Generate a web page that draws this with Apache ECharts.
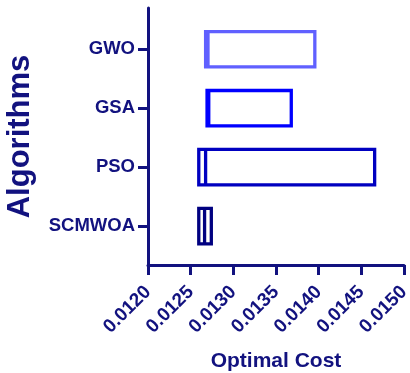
<!DOCTYPE html>
<html>
<head>
<meta charset="utf-8">
<script src="https://cdn.jsdelivr.net/npm/echarts@6/dist/echarts.min.js"></script>
<style>
  html, body { margin: 0; padding: 0; background: #fff; }
  #chart { width: 410px; height: 373px; }
</style>
</head>
<body>
<div id="chart"></div>
<script>
// algorithms, bottom to top (y position 1..4)
const algorithms = ['SCMWOA', 'PSO', 'GSA', 'GWO']
const minCost = [0.012595, 0.012595, 0.012692, 0.012675]
const midCost = [0.012663, 0.012675, 0.012712, 0.012703]
const maxCost = [0.012742, 0.014656, 0.013679, 0.013955]
const xTicks = [0.0120, 0.0125, 0.0130, 0.0135, 0.0140, 0.0145, 0.0150]

const boxColors = ['#000080', '#0000c0', '#0000ff', '#6060ff']
const navy = '#12127f'
const font = 'Liberation Sans, Arial, sans-serif'

const seriesData = algorithms.map((name, i) => [i + 1, minCost[i], midCost[i], maxCost[i]])

const myChart = echarts.init(document.getElementById('chart'))
const option = {
  animation: false,
  grid: { left: 148, right: 6, top: 8, bottom: 108, outerBoundsMode: 'none' },
  xAxis: {
    type: 'value',
    min: xTicks[0],
    max: xTicks[xTicks.length - 1],
    interval: 0.0005,
    name: 'Optimal Cost',
    nameLocation: 'middle',
    nameGap: 86,
    nameTextStyle: { color: navy, fontFamily: font, fontWeight: 'bold', fontSize: 21 },
    axisLine: { show: true, lineStyle: { color: navy, width: 3 } },
    axisTick: { show: true, length: 10, lineStyle: { color: navy, width: 3 } },
    splitLine: { show: false },
    axisLabel: {
      rotate: 45,
      margin: 24,
      showMaxLabel: true,
      showMinLabel: true,
      hideOverlap: false,
      color: navy,
      fontFamily: font,
      fontWeight: 'bold',
      fontSize: 19,
      formatter: v => v.toFixed(4)
    }
  },
  yAxis: {
    type: 'value',
    min: 0.34,
    max: 4.7,
    name: 'Algorithms',
    nameLocation: 'middle',
    nameGap: 112,
    nameTextStyle: { color: navy, fontFamily: font, fontWeight: 'bold', fontSize: 31 },
    axisLine: { show: true, lineStyle: { color: navy, width: 3 } },
    axisTick: { show: true, length: 10, customValues: [1, 2, 3, 4], lineStyle: { color: navy, width: 3 } },
    splitLine: { show: false },
    axisLabel: {
      customValues: [1, 2, 3, 4],
      margin: 13,
      color: navy,
      fontFamily: font,
      fontWeight: 'bold',
      fontSize: 18.5,
      formatter: v => algorithms[Math.round(v) - 1]
    }
  },
  series: [{
    type: 'custom',
    data: seriesData,
    encode: { x: [1, 2, 3], y: 0 },
    renderItem: function (params, api) {
      const y = api.value(0)
      const lo = api.coord([api.value(1), y])
      const md = api.coord([api.value(2), y])
      const hi = api.coord([api.value(3), y])
      const h = api.size([0, 1])[1] * 0.6
      const c = boxColors[params.dataIndex]
      return {
        type: 'group',
        children: [
          { type: 'rect', shape: { x: lo[0], y: lo[1] - h / 2, width: hi[0] - lo[0], height: h },
            style: { fill: '#fff', stroke: c, lineWidth: 3.3 } },
          { type: 'line', shape: { x1: md[0], y1: lo[1] - h / 2, x2: md[0], y2: lo[1] + h / 2 },
            style: { stroke: c, lineWidth: 3.3 } }
        ]
      }
    }
  }]
}
myChart.setOption(option)
</script>
</body>
</html>
